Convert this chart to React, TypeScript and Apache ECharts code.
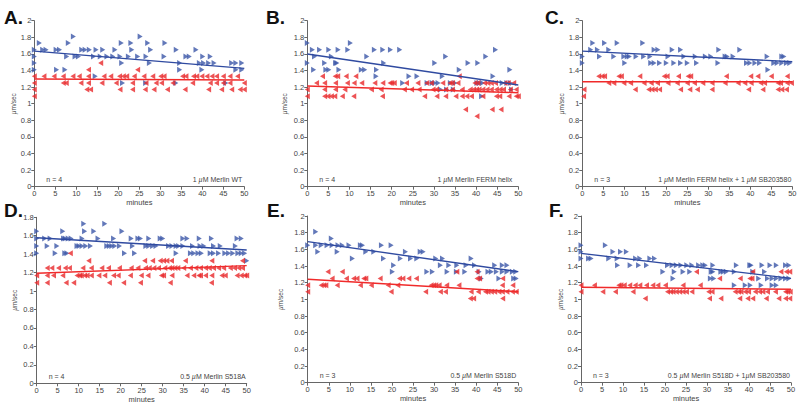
import React, { useEffect, useRef } from "react";
import * as echarts from "echarts";

// helper: points on one velocity level
const row = (y: number, xs: number[]) => xs.map((x) => [x, y]);

// ---------- Panel A ----------
const blueA = [
  ...row(1.81, [9.3, 25.2]),
  ...row(1.73, [1.2, 8.1, 20.7, 23, 27, 31.1]),
  ...row(1.65, [0, 2, 2.8, 5.2, 6, 11.3, 12.1, 13.1, 14.7, 16.3, 19.2, 23.2, 27.7, 33.8, 38.5]),
  ...row(1.57, [0, 7.7, 9.7, 10.5, 14.1, 15.7, 17.3, 18.7, 20.4, 22.4, 24.6, 26.6, 30.9, 36.1, 36.9, 40.1, 41.9]),
  ...row(1.49, [0, 20.8, 27.4, 34.6, 39.3, 40.3, 41.5, 42.8, 47, 48, 49.4]),
  ...row(1.41, [0, 5.3, 7.3, 34.6, 39.9, 48, 49.4]),
  ...row(1.33, [14.5]),
  ...row(1.25, [21, 26.5, 33.7, 45.6]),
];
const redA = [
  ...row(1.49, [15.8]),
  ...row(1.41, [12.9, 24.6]),
  ...row(1.33, [0, 2.3, 4.7, 6.9, 9.2, 10.7, 12.9, 16.6, 18.2, 20.3, 21.2, 22, 23.8, 26.1, 28.2, 30.1, 30.9, 35.3, 36.1, 37.9, 38.7, 39.9, 41.1, 42.3, 43.4, 45, 46.6, 48.4]),
  ...row(1.25, [0, 6.9, 7.6, 11.1, 12.9, 16.1, 19.5, 23.4, 26.6, 29, 30.3, 33, 37.7, 41.9, 43.4, 45, 46.6, 50]),
  ...row(1.17, [0, 12.5, 13.4, 20.4, 23.4, 26.4, 28.5, 31.7, 35.9, 41.5, 44.6, 47, 49, 50]),
  ...row(1.09, [0]),
];

// ---------- Panel B ----------
const blueB = [
  ...row(1.73, [0, 10.2]),
  ...row(1.65, [1.2, 2.9, 5.1, 7.3, 9.6, 15.9, 17.9, 19.7, 21.9, 44.6]),
  ...row(1.57, [1.7, 5.7, 14.1, 32.8, 42.3]),
  ...row(1.49, [0, 4.1, 6.7, 7, 18.1, 30.2, 38.1, 40.4]),
  ...row(1.41, [1.5, 4.4, 5.1, 7.5, 12.8, 13.6, 16.4, 36, 48]),
  ...row(1.33, [16.3, 24.1, 26, 32, 44]),
  ...row(1.25, [22.6, 28.4, 29.6, 30.2, 31, 33.9, 35, 40.2, 40.8, 41.5, 46.2, 47.3, 48.1]),
  ...row(1.17, [31.6, 33, 34.6, 48.4]),
  ...row(1.09, [41.3]),
];
const redB = [
  ...row(1.33, [3.6, 6.6, 7.2, 9.2, 11.5, 36]),
  ...row(1.25, [2.2, 4.1, 6.7, 9.5, 11.1, 12.9, 16, 17.9, 19.6, 20, 20.6, 23.5, 26.2, 28.3, 29.4, 32.1, 33.8, 34.4, 35.7, 39.7, 40.4, 42, 42.8, 43.6, 44.6, 46.8, 47.6, 48.9]),
  ...row(1.17, [0, 4.1, 6.7, 8.9, 15.2, 17.5, 23, 24.7, 26.5, 29.8, 30.6, 32.8, 34.4, 36.7, 38.6, 39.4, 40.1, 40.7, 41.6, 42.6, 43.6, 44.8, 45.7, 46.5, 48.1, 49.5]),
  ...row(1.09, [0, 4.1, 4.9, 5.7, 6.5, 8.3, 11, 17.8, 27.8, 30.7, 32.8, 35.2, 36.7, 37.8, 38.9, 41.6, 44.8, 45.6, 47.8, 49.5, 50]),
  ...row(0.93, [37.5, 43.8, 45.9]),
  ...row(0.85, [40.2]),
];

// ---------- Panel C ----------
const blueC = [
  ...row(1.73, [2.5, 5.3, 8.3, 14.4]),
  ...row(1.65, [2, 3.6, 6.3, 17.1, 18, 21.4, 23.4, 32.5, 37.5]),
  ...row(1.57, [0, 4.1, 7.5, 9.9, 10.7, 11.2, 12.8, 14.6, 16.1, 20.4, 24.2, 26.9, 29.3, 30.6, 34, 34.5, 35.9, 44, 47.5, 48]),
  ...row(1.49, [0, 10.1, 16.3, 17.1, 18.4, 20, 21.8, 23.4, 25, 27.2, 32.3, 39.1, 39.9, 41.1, 42.2, 45.6, 46.4, 47.5, 48.6, 49.4]),
  ...row(1.41, [44.2]),
];
const redC = [
  ...row(1.33, [3.9, 4.7, 5.3, 8.7, 9.3, 13.7, 19.5, 20.2, 22.9, 25.2, 25.8, 34.3, 40.1, 41.8, 45, 48.8]),
  ...row(1.25, [6.3, 7.5, 9.9, 11.5, 14.7, 16.4, 17.9, 20.4, 22.6, 25, 26.7, 28.7, 30.9, 34, 37.1, 38.7, 40.2, 42.5, 43.4, 46.6, 47.2, 48.8, 49.8]),
  ...row(1.17, [0.4, 12.6, 15.8, 16.6, 17.4, 18.4, 23.4, 25.6, 27.4, 30.9, 39.6, 43, 46.6, 47.5, 48.6]),
  ...row(1.09, [0.3]),
];

// ---------- Panel D ----------
const blueD = [
  ...row(1.73, [11.2, 16.2]),
  ...row(1.65, [0, 6.2, 11.4, 13.6, 20.3]),
  ...row(1.57, [0, 1.9, 3.2, 6.4, 6.8, 7.5, 8.2, 10.8, 14.6, 18.3, 22.5, 24.1, 24.7, 26.7, 29.4, 30, 34.8, 35.8, 38.7, 41.6, 47.7, 48.7]),
  ...row(1.49, [0, 2.5, 4.8, 9.6, 10.1, 10.8, 11.7, 12.8, 16.7, 17.3, 17.9, 18.6, 19.7, 22.8, 26, 26.7, 27.6, 28.4, 31.4, 32.2, 33.2, 33.8, 34.8, 37.1, 38.9, 39.8, 42.1, 43.7, 47.3]),
  ...row(1.41, [0, 4.4, 6.7, 7.2, 20.9, 23.3, 33.2, 36.6, 37.4, 38.4, 39.2, 41.3, 42.1, 43.3, 44.8, 45.7, 46.7, 47.9, 48.7, 49.5]),
  ...row(1.33, [50]),
];
const redD = [
  ...row(1.41, [8]),
  ...row(1.33, [12.4, 25.7, 27.6, 29.4, 30.2, 31, 32.1, 35.4, 41.7, 49]),
  ...row(1.25, [2.5, 3.6, 5.2, 6.8, 7.8, 11, 13, 15.5, 17.1, 19.7, 22.5, 24.1, 25.9, 26.8, 27.9, 29, 30.5, 31.6, 32.2, 32.9, 33.6, 35, 36.6, 37.9, 39, 40.2, 41.1, 42.1, 43.3, 44.5, 46.1, 47.1, 48.1, 49]),
  ...row(1.17, [0, 2.5, 4, 6.2, 9.6, 10.2, 10.6, 11.4, 12, 13, 14.8, 16.2, 18.3, 19.4, 22.3, 24.9, 26.5, 29.7, 30.2, 32.2, 35.8, 37.4, 38.6, 39, 40.2, 41.7, 44.1, 44.9, 47.7, 48.7, 49.5, 50]),
  ...row(1.09, [0, 2.5, 7, 8.8, 17.3, 20.7, 24.7, 31.8, 41.6]),
];

// ---------- Panel E ----------
const blueE = [
  ...row(1.81, [1.9]),
  ...row(1.73, [5.6]),
  ...row(1.65, [0, 1.9, 3.2, 4.6, 5.8, 7.2, 8.2, 9.8, 12.5, 13, 17.5, 19.8]),
  ...row(1.57, [2.4, 7, 13.8, 15.7, 23.2, 26.7, 27.4]),
  ...row(1.49, [10.6, 18, 22, 24.4, 25.9, 30.4, 32, 38.8]),
  ...row(1.41, [20.4, 31.5, 33.5, 35.4, 37.6, 39.6, 44.4, 46.2, 47.3]),
  ...row(1.33, [20.1, 28.3, 29.6, 33.1, 35.3, 37.3, 40.7, 42.8, 43.6, 44.8, 46.2, 47.3, 48.6, 49.4]),
  ...row(1.25, [41.2, 45.4, 48.9, 49.5]),
];
const redE = [
  ...row(1.33, [4.8, 8.2, 35.4, 40.2]),
  ...row(1.25, [5.8, 9.2, 10.9, 11.7, 13.3, 13.8, 17.2, 21.8, 22.6, 24, 25.8, 40.2, 40.8, 46.3]),
  ...row(1.17, [0, 3.2, 3.8, 4.3, 7, 12.5, 15.1, 19.1, 21.4, 29.3, 29.9, 30.4, 31.2, 33, 35.9, 46.2, 48.7]),
  ...row(1.09, [0, 19.8, 28, 31.5, 32.7, 38.8, 40.5, 42.2, 42.8, 43.6, 44.4, 45.4, 46.2, 47.3, 48.6, 49.5]),
  ...row(1.01, [38.6, 39.4, 46.3]),
];

// ---------- Panel F ----------
const blueF = [
  ...row(1.65, [0, 5.8]),
  ...row(1.57, [0, 7.6, 9.4, 10.8]),
  ...row(1.49, [0, 1.8, 2.4, 6.6, 8.6, 13, 14, 16.4, 17.5]),
  ...row(1.41, [8.7, 11.7, 13.7, 15.6, 20.6, 21.7, 22.7, 23.8, 25.2, 26.4, 28, 29, 29.6, 31.4, 37, 40.2, 40.5, 43.1, 45, 46.5, 48.7, 49.5]),
  ...row(1.33, [19.5, 22.2, 24.3, 25.9, 31, 31.4, 33.3, 33.9, 34.6, 36.5, 40.9, 43.7]),
  ...row(1.25, [21.9, 30.8, 31.6, 42.3, 44.4, 45.5, 46.5, 47.6, 48.7, 49.5]),
  ...row(1.17, [36.5, 39.1, 40.3, 42.9, 45.5, 46.5]),
];
const redF = [
  ...row(1.33, [27.5, 40.9, 47.6, 48.9, 49.7]),
  ...row(1.25, [33, 37.9, 40.2, 40.7]),
  ...row(1.17, [0, 3.2, 9, 9.5, 10.3, 11.6, 12.9, 14, 15.6, 17.1, 18.3, 20.1, 24.3, 28.4]),
  ...row(1.09, [0, 5.2, 8.2, 12.4, 20.6, 21.3, 21.9, 22.7, 23.5, 24.3, 25.1, 26.4, 30.4, 31.2, 36.7, 37.5, 38.1, 39.1, 39.9, 41.5, 42.5, 43.3, 44.4, 46.3, 48.7, 49.2, 49.8]),
  ...row(1.01, [15.3, 30.6, 33.3, 37.8, 39.7, 40.9, 44.1, 47.1, 48.7, 49.7]),
];

// regression lines: values at 0 and 50 minutes
const fitMinutes = [0, 50];
const fitBlue = [
  [1.634, 1.426],
  [1.598, 1.225],
  [1.634, 1.506],
  [1.579, 1.446],
  [1.692, 1.332],
  [1.552, 1.252],
];
const fitRed = [
  [1.297, 1.285],
  [1.213, 1.133],
  [1.265, 1.265],
  [1.193, 1.276],
  [1.24, 1.092],
  [1.144, 1.12],
];

const blueSets = [blueA, blueB, blueC, blueD, blueE, blueF];
const redSets = [redA, redB, redC, redD, redE, redF];
const panelLetters = ["A.", "B.", "C.", "D.", "E.", "F."];
const nLabels = ["n = 4", "n = 4", "n = 3", "n = 4", "n = 3", "n = 3"];
const conditions = [
  "{n|1 }{i|µ}{n|M Merlin WT}",
  "{n|1 }{i|µ}{n|M Merlin FERM helix}",
  "{n|1 }{i|µ}{n|M Merlin FERM helix + 1 }{i|µ}{n|M SB203580}",
  "{n|0.5 }{i|µ}{n|M Merlin S518A}",
  "{n|0.5 }{i|µ}{n|M Merlin S518D}",
  "{n|0.5 }{i|µ}{n|M Merlin S518D + 1}{i|µ}{n|M SB203580}",
];
const yMax = [2, 2, 2, 1.8, 2, 2];

// layout
const grids = [
  { left: 34.3, top: 20.7, width: 210, height: 166 },
  { left: 307.3, top: 20.7, width: 211, height: 166 },
  { left: 582.3, top: 20.7, width: 210, height: 166 },
  { left: 36.7, top: 217.3, width: 210, height: 166 },
  { left: 307.7, top: 216, width: 210.6, height: 166.7 },
  { left: 581, top: 216, width: 210, height: 166.7 },
];
const yNameGap = [16, 19, 14, 19, 24, 13];
const letterPos = [
  [4, 17],
  [266, 17],
  [545, 17],
  [4, 210],
  [267, 210],
  [549, 210],
];
const condPad = [2, 6, 1, 1, 2, 1];

const FONT = "Liberation Sans, Arial, Helvetica, sans-serif";
const BLUE = "#3b56a8";
const RED = "#e8282b";
const RIGHT_TRI = "path://M0,0 L10,5 L0,10 Z";
const LEFT_TRI = "path://M10,0 L0,5 L10,10 Z";

export default function App() {
  const ref = useRef<HTMLDivElement>(null);
  useEffect(() => {
    if (!ref.current) return;
    const chart = echarts.init(ref.current, undefined, { renderer: "svg" });
    const axisCommon = {
      axisLine: { show: true, lineStyle: { color: "#666", width: 1 } },
      axisTick: { show: true, length: 3, lineStyle: { color: "#666" } },
      splitLine: { show: false },
      axisLabel: { fontSize: 7.5, color: "#444", fontFamily: FONT, margin: 3 },
    };
    const xAxis = grids.map((_, i) => ({
      ...axisCommon,
      type: "value",
      gridIndex: i,
      min: 0,
      max: 50,
      interval: 5,
      name: "minutes",
      nameLocation: "middle",
      nameGap: 12,
      nameTextStyle: { fontSize: 7.5, color: "#444", fontFamily: FONT },
    }));
    const yAxis = grids.map((_, i) => ({
      ...axisCommon,
      type: "value",
      gridIndex: i,
      min: 0,
      max: yMax[i],
      interval: 0.2,
      name: "{i|µ}{n|m/sec}",
      nameLocation: "middle",
      nameGap: yNameGap[i],
      nameRotate: 90,
      nameTextStyle: {
        fontSize: 6.5,
        color: "#444",
        fontFamily: FONT,
        rich: {
          i: { fontSize: 6.5, fontStyle: "italic", color: "#444", fontFamily: FONT },
          n: { fontSize: 6.5, color: "#444", fontFamily: FONT },
        },
      },
    }));
    const series: any[] = [];
    grids.forEach((_, i) => {
      series.push({
        type: "scatter",
        xAxisIndex: i,
        yAxisIndex: i,
        data: blueSets[i],
        symbol: RIGHT_TRI,
        symbolSize: [5, 6],
        itemStyle: { color: BLUE },
      });
      series.push({
        type: "scatter",
        xAxisIndex: i,
        yAxisIndex: i,
        data: redSets[i],
        symbol: LEFT_TRI,
        symbolSize: [5, 6],
        itemStyle: { color: RED },
      });
      series.push({
        type: "line",
        xAxisIndex: i,
        yAxisIndex: i,
        data: fitMinutes.map((m, k) => [m, fitBlue[i][k]]),
        showSymbol: false,
        lineStyle: { color: "#2f4aa0", width: 1.4 },
      });
      series.push({
        type: "line",
        xAxisIndex: i,
        yAxisIndex: i,
        data: fitMinutes.map((m, k) => [m, fitRed[i][k]]),
        showSymbol: false,
        lineStyle: { color: "#f02a2a", width: 1.5 },
      });
    });
    const graphic: any[] = [];
    grids.forEach((g, i) => {
      graphic.push({
        type: "text",
        x: letterPos[i][0],
        y: letterPos[i][1],
        style: {
          text: panelLetters[i],
          font: `bold 19px ${FONT}`,
          fill: "#111",
          verticalAlign: "middle",
        },
      });
      graphic.push({
        type: "text",
        x: g.left + 12,
        y: g.top + g.height - 7,
        style: {
          text: nLabels[i],
          fontSize: 7,
          fontFamily: FONT,
          fill: "#444",
          verticalAlign: "middle",
        },
      });
      graphic.push({
        type: "text",
        x: g.left + g.width - condPad[i],
        y: g.top + g.height - 7,
        style: {
          text: conditions[i],
          fontSize: 7,
          fontFamily: FONT,
          fill: "#444",
          align: "right",
          verticalAlign: "middle",
          rich: {
            n: { fontSize: 7, fontFamily: FONT, fill: "#444", color: "#444" },
            i: { fontSize: 7, fontFamily: FONT, fontStyle: "italic", fill: "#444", color: "#444" },
          },
        },
      });
    });
    chart.setOption({
      animation: false,
      backgroundColor: "#fff",
      grid: grids,
      xAxis,
      yAxis,
      series,
      graphic,
    });
    return () => chart.dispose();
  }, []);
  return (
    <div
      ref={ref}
      style={{ position: "absolute", left: 0, top: 0, width: 800, height: 407 }}
    />
  );
}
